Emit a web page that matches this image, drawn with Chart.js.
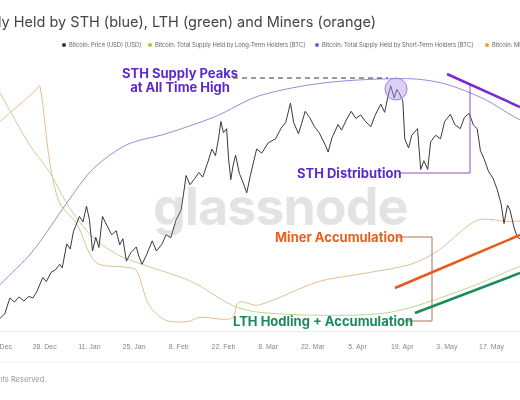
<!DOCTYPE html>
<html><head><meta charset="utf-8">
<script src="https://cdn.jsdelivr.net/npm/chart.js@4.4.0/dist/chart.umd.min.js"></script>
<style>
html,body{margin:0;padding:0;width:520px;height:400px;overflow:hidden;background:#fff;font-family:Inter,"Noto Sans",sans-serif;}
#wrap{position:absolute;left:-40px;top:0;width:600px;height:354px;}
.t{position:absolute;white-space:nowrap;}
.ann{font-weight:700;font-size:13px;position:absolute;white-space:nowrap;}
.lg{position:absolute;top:41px;font-size:5.8px;color:#666;white-space:nowrap;}
.lg i{display:inline-block;width:4px;height:4px;border-radius:50%;margin-right:3px;vertical-align:middle;}
svg{position:absolute;left:0;top:0;}
</style></head><body>
<div id="wrap"><canvas id="c" width="600" height="354" style="width:600px;height:354px"></canvas></div>
<div class="t" style="left:-2px;top:13px;font-size:14.5px;color:#444;">ly Held by STH (blue), LTH (green) and Miners (orange)</div>
<div class="lg" style="left:62px"><i style="background:#333"></i>Bitcoin: Price (USD) [USD]</div>
<div class="lg" style="left:148px"><i style="background:#9ccc3c"></i>Bitcoin: Total Supply Held by Long-Term Holders [BTC]</div>
<div class="lg" style="left:315px"><i style="background:#7b5bd6"></i>Bitcoin: Total Supply Held by Short-Term Holders [BTC]</div>
<div class="lg" style="left:485px"><i style="background:#f0a030"></i>Bitcoin: Miner Supply [BTC]</div>
<div class="t" style="left:153px;top:175px;font-size:52px;font-weight:700;color:rgba(150,150,150,0.27);letter-spacing:-1px;">glassnode</div>
<svg width="520" height="400">
 <line x1="233" y1="78" x2="388" y2="78" stroke="#333" stroke-width="1" stroke-dasharray="5,4"/>
 <circle cx="396" cy="89" r="11" fill="rgba(180,150,235,0.45)" stroke="#a080e0" stroke-width="1"/>
 <polyline points="400,173 470,173 470,84" fill="none" stroke="#8a50d0" stroke-width="1"/>
 <line x1="447" y1="74" x2="520" y2="107" stroke="#7a2ad0" stroke-width="2.5"/>
 <polyline points="398,237 432,237 432,321 405,321" fill="none" stroke="#b07050" stroke-width="1"/>
 <line x1="395" y1="288" x2="520" y2="235" stroke="#e8581a" stroke-width="2.5"/>
 <line x1="415" y1="313" x2="520" y2="273" stroke="#1a8a5a" stroke-width="2.5"/>
 <line x1="0" y1="362" x2="520" y2="362" stroke="#eee" stroke-width="1"/>
</svg>
<div class="ann" style="left:122px;top:66px;color:#5a2ad0;line-height:14px;text-align:center;">STH Supply Peaks<br>at All Time High</div>
<div class="ann" style="left:297px;top:165px;color:#5a2ad0;">STH Distribution</div>
<div class="ann" style="left:275px;top:229px;color:#e8601c;">Miner Accumulation</div>
<div class="ann" style="left:233px;top:313px;color:#1a8a5a;">LTH Hodling + Accumulation</div>
<div class="t" style="left:-2px;top:375px;font-size:7.5px;color:#999;">hts Reserved.</div>
<script>
const tickLabels=['14. Dec','28. Dec','11. Jan','25. Jan','8. Feb','22. Feb','8. Mar','22. Mar','5. Apr','19. Apr','3. May','17. May'];
const priceDays=[0,1.5,3.1,4.5,6,7.5,9,10.3,11.5,13.4,14.5,16,17.5,18.7,19.5,20.9,22,23,24.9,26,27.1,28,29,30,31,32.1,33.5,35,36.4,37.5,38.5,39.6,41,42.7,43.5,44.5,46,47.7,49,50.8,52,53.5,55.1,56.7,57.5,58.3,59.5,61,62.3,63.5,65,66.4,67.5,68.5,69.2,70,71,71.6,72.3,73,73.8,75,76,77.3,78.5,80.4,82,84,86.3,88,89.5,91,92,93.5,94.5,95.6,97,98.5,100,101.9,102.8,104,105.9,107,108.5,110,111.5,113,114.5,116.2,117.5,119.3,120.5,121.5,122.4,123.5,124.3,125.2,126.2,126.8,128,129,130.8,131.8,132.8,134,134.9,136.5,138,139.3,141.1,142.5,144.2,145.5,147,148.3,149.5,150.5,151.7,153,154.5,155.8,157,157.9,159,159.8,161,162,165,170];
const priceUSD=[20600,21500,24600,23800,24800,24000,24900,24600,25800,28600,27800,29600,30200,31200,30500,35200,34200,37600,40600,39500,42600,40000,33800,36500,34500,40600,38800,37000,37800,35000,36200,31800,33500,34600,32800,31200,33200,35800,33800,35200,37000,36400,39800,41800,45000,48600,46800,48000,49200,48300,51000,53800,52500,56000,59200,57000,57800,52000,47800,50500,52600,49000,47500,45200,48800,53800,53000,55000,55800,57800,59000,62800,59000,56800,58800,61200,60000,58200,57000,54600,53200,56000,58600,57500,59500,61200,59800,60500,59200,58200,60400,62600,61000,64000,66200,63800,65500,64600,63200,55800,54000,56500,57800,49800,51500,49800,55200,56500,55800,59200,60600,58600,57800,60000,60800,58500,57800,53500,51800,49500,48000,45800,43000,39200,42800,41800,38500,36600,35200,38200];
const sthDays=[0,10.3,20.9,29.0,39.6,52.0,67.6,81.0,101.9,127.7,139.3,151.7,162.0,174.5];
const sthBTC=[2.92,3.58,4.52,5.18,5.66,5.88,6.22,6.62,6.88,6.96,6.86,6.56,6.18,5.82];
const lthDays=[0,9.3,15.6,20.9,28.0,36.4,44.5,60.1,72.6,81.0,101.9,122.4,143.3,162.0,174.5];
const lthBTC=[14.34,13.83,13.56,13.26,12.96,12.76,12.66,12.49,12.26,12.19,12.16,12.19,12.39,12.63,12.81];
const minerDays=[0,11,12.5,15.6,18.7,24.0,30.0,39.6,42.7,46.7,52.0,59.2,62.3,72.6,74.8,81.0,99.7,112.1,128.7,137.1,149.5,159.8,174.5];
const minerBTC=[2.006,2.036,2.041,1.966,1.926,1.906,1.868,1.863,1.860,1.826,1.811,1.810,1.814,1.813,1.829,1.826,1.849,1.856,1.866,1.879,1.909,1.908,1.911];
const pts=(d,v)=>d.map((x,i)=>({x,y:v[i]}));
const ds=(data,color,axis,w,t)=>({data,borderColor:color,borderWidth:w,pointRadius:0,tension:t,yAxisID:axis,fill:false});
const hid=(min,max)=>({min,max,display:false});
new Chart(document.getElementById('c'),{
 type:'line',
 data:{datasets:[
  ds(pts(priceDays,priceUSD),'#3a3a3a','yP',1,0),
  ds(pts(sthDays,sthBTC),'#9a8ad8','yS',1,0.3),
  ds(pts(lthDays,lthBTC),'#bcd890','yL',1,0.3),
  ds(pts(minerDays,minerBTC),'#e2be92','yM',1,0.3)
 ]},
 options:{responsive:false,animation:false,devicePixelRatio:1,
  layout:{padding:{left:40,right:0,top:45,bottom:0}},
  plugins:{legend:{display:false},tooltip:{enabled:false}},
  scales:{
   x:{type:'linear',min:0,max:174.5,
      grid:{display:false},border:{color:'#eee'},
      ticks:{stepSize:14,autoSkip:false,maxRotation:0,color:'#888',font:{size:7},
        callback:v=>tickLabels[v/14]??''}},
   yP:hid(18000,74200),yS:hid(2,7.62),yL:hid(12,14.81),yM:hid(1.8,2.081)
  }}
});
</script>
</body></html>
